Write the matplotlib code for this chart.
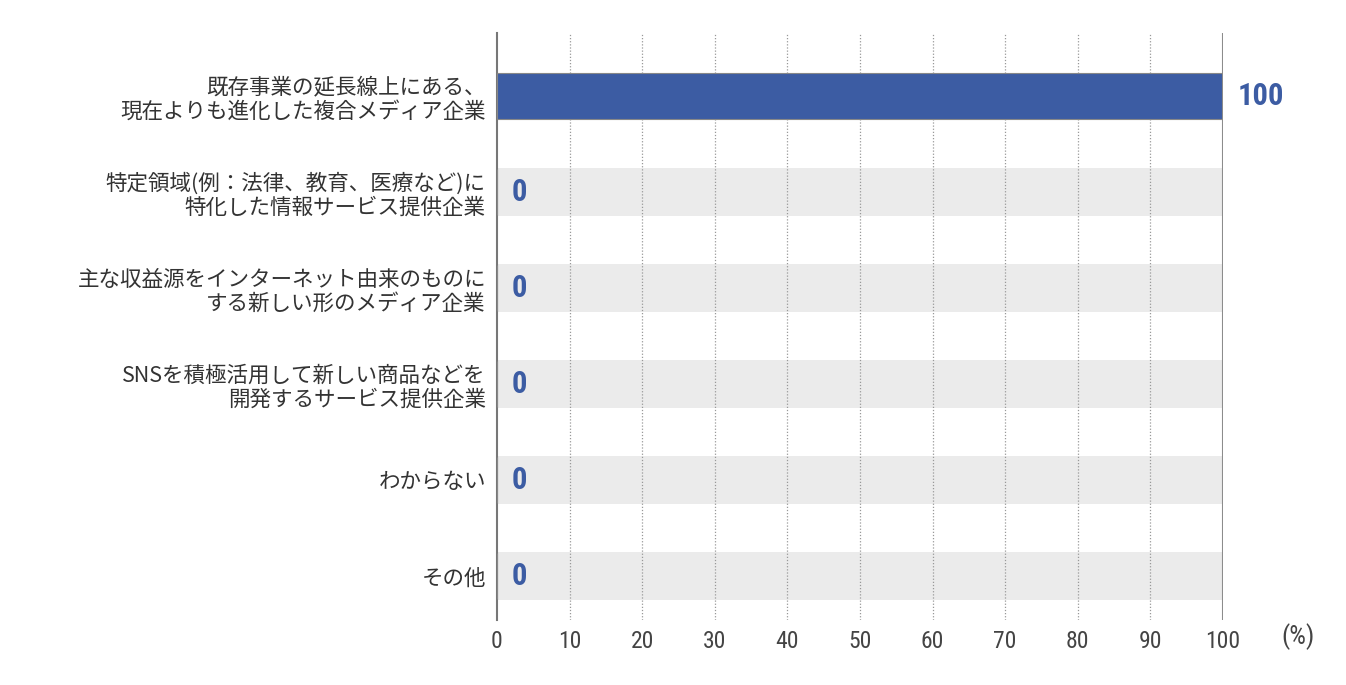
import numpy as np
import matplotlib.pyplot as plt

plt.rcParams['font.family'] = ['Noto Sans CJK JP', 'DejaVu Sans']

# データ
categories = [
    '既存事業の延長線上にある、\n現在よりも進化した複合メディア企業',
    '特定領域(例：法律、教育、医療など)に\n特化した情報サービス提供企業',
    '主な収益源をインターネット由来のものに\nする新しい形のメディア企業',
    'SNSを積極活用して新しい商品などを\n開発するサービス提供企業',
    'わからない',
    'その他',
]
values = [100, 0, 0, 0, 0, 0]
xticks = [0, 10, 20, 30, 40, 50, 60, 70, 80, 90, 100]

blue = '#3c5ca3'
text_col = '#333333'
num_font = ['Roboto Condensed', 'Liberation Sans Narrow', 'Roboto', 'DejaVu Sans']

fig = plt.figure(figsize=(13.46, 6.85), dpi=100)
ax = fig.add_axes([0.3692, 0.0949, 0.5394, 0.8569])

y = np.arange(len(categories))

# 背景の灰色バー（値が入っている行は除く）
bg = [100 if v < 100 else 0 for v in values]
ax.barh(y, bg, height=0.5, color='#ebebeb', zorder=1)

# 点線グリッド
for t in xticks[1:-1]:
    ax.axvline(t, color='#999999', linestyle=(0, (1, 1.5)), linewidth=0.9, zorder=2)
ax.axvline(100, color='#8c8c8c', linewidth=1.5, zorder=4)

ax.barh(y, values, height=0.48, color=blue, edgecolor='#888888', linewidth=0.8, zorder=3)

for yi, v in zip(y, values):
    ax.text(v + 2.0, yi, str(v), va='center', ha='left', color=blue,
            fontsize=22, fontweight='bold', family=num_font, zorder=5)

ax.set_xlim(0, 100)
ax.set_ylim(5.46, -0.66)
ax.set_yticks(y)
ax.set_yticklabels(categories, fontsize=15.5, color=text_col, linespacing=1.1)
ax.set_xticks(xticks)
ax.set_xticklabels([str(t) for t in xticks], fontsize=17, color='#444444', family=num_font)
ax.tick_params(axis='both', length=0)
ax.tick_params(axis='x', pad=7)
ax.tick_params(axis='y', pad=8)

for s in ['top', 'right', 'bottom']:
    ax.spines[s].set_visible(False)
ax.spines['left'].set_color('#777777')
ax.spines['left'].set_linewidth(1.5)

fig.text(1298 / 1346, 1 - 637 / 685, '(%)', ha='center', va='center',
         fontsize=19, color='#444444', family=num_font)

fig.savefig('out.png', dpi=100)
